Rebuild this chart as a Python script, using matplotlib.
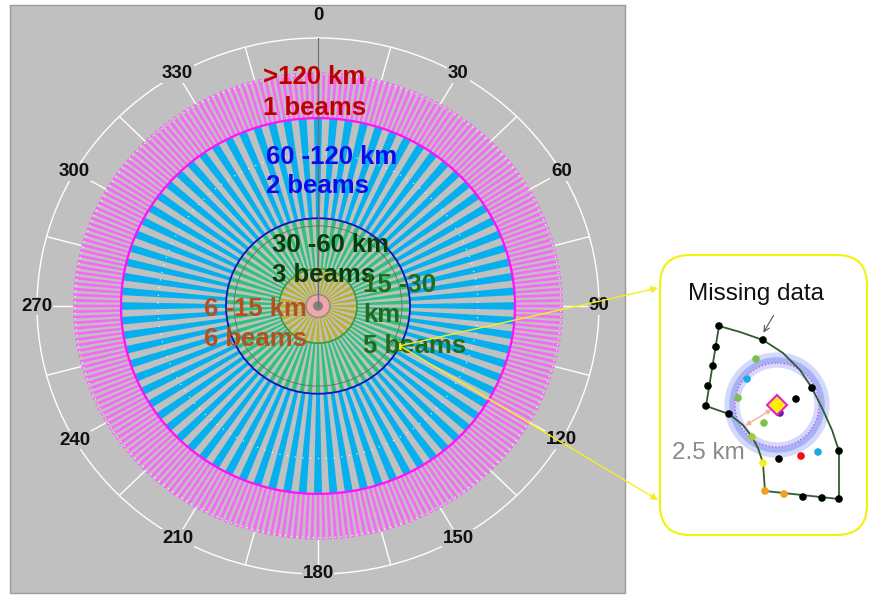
import numpy as np
import matplotlib
matplotlib.use('Agg')
import matplotlib.pyplot as plt
from matplotlib.patches import Rectangle, Circle, FancyBboxPatch, ConnectionPatch, FancyArrowPatch

plt.rcParams['font.family'] = ['Liberation Sans', 'DejaVu Sans']

# range rings: radius on the plot (0..281 = outer circle) and number of beams around
ring_inner = [12, 39, 92, 197]
ring_outer = [39, 92, 197, 245]
ring_nbeams = [36, 70, 80, 260]
ring_colors = ['#b9b12e', '#2fc27a', '#06b0ee', '#f46af4']

tick_deg = [0, 30, 60, 90, 120, 150, 180, 210, 240, 270, 300, 330]

# range labels, one entry per text line
label_lines = ['>120 km', '1 beams', '60 -120 km', '2 beams', '30 -60 km', '3 beams',
               '15 -30', 'km', '5 beams', '6 -15 km', '6 beams']
label_colors = ['#c00000', '#c00000', '#0a0aee', '#0a0aee', '#0b3a0b', '#0b3a0b',
                '#1e6a1e', '#1e6a1e', '#1e6a1e', '#b4501e', '#b4501e']
label_x = [263, 263, 266, 266, 272, 272, 363, 363, 363, 204, 204]
label_y = [84, 115, 164, 193, 252, 282, 292, 322, 353, 316, 346]

# inset (zoomed cell), pixel positions
outer_arc_x = [719, 740, 763, 783, 800, 812, 823, 832, 839, 839]
outer_arc_y = [326, 332, 340, 353, 370, 388, 410, 430, 451, 499]
left_edge_x = [719, 706]
left_edge_y = [326, 406]
inner_arc_x = [706, 729, 743, 752, 758, 763, 765, 839]
inner_arc_y = [406, 414, 425, 437, 448, 463, 491, 499]
dot_x = [719, 716, 713, 708, 706, 729, 763, 812, 839, 803, 822, 839, 796, 779,
         763, 765, 784, 752, 756, 738, 764, 747, 818, 801, 780]
dot_y = [326, 347, 366, 386, 406, 414, 340, 388, 451, 497, 498, 499, 399, 459,
         463, 491, 494, 437, 359, 398, 423, 379, 452, 456, 413]
dot_c = ['k'] * 14 + ['#f4f020', '#f0a020', '#f0a020', '#a8c838', '#7cbf4a', '#7cbf4a',
                      '#7cbf4a', '#1fa8e8', '#1fa8e8', '#ee1111', '#6a1a9a']
target_x, target_y, target_r = 777, 405, 45

W, H = 869, 601
fig = plt.figure(figsize=(W / 100, H / 100), dpi=100, facecolor='white')

bg = fig.add_axes([0, 0, 1, 1], zorder=0)
bg.set_xlim(0, W)
bg.set_ylim(H, 0)
bg.axis('off')
bg.add_patch(Rectangle((10, 5), 615, 588, fc='#c0c0c0', ec='#9a9a9a', lw=1))

cx, cy, rx, ry = 318, 306, 281, 268
ax = fig.add_axes([(cx - rx) / W, (H - cy - ry) / H, 2 * rx / W, 2 * ry / H],
                  projection='polar', zorder=1)
ax.set_aspect('auto')
ax.set_facecolor('none')
ax.set_theta_zero_location('N')
ax.set_theta_direction(-1)
ax.set_ylim(0, 281)
ax.set_xticks([])
ax.set_yticks([])
ax.grid(False)
ax.spines['polar'].set_color('white')
ax.spines['polar'].set_linewidth(1)

full = np.linspace(0, 2 * np.pi, 721)
for inner, outer, n, c in zip(ring_inner, ring_outer, ring_nbeams, ring_colors):
    th = np.arange(n) * 2 * np.pi / n
    ax.bar(th, outer - inner, width=0.52 * 2 * np.pi / n, bottom=inner, color=c, lw=0, zorder=2)

# centre disc
ax.bar(0, 12, width=2 * np.pi, bottom=0, color='#f2a6a6', lw=0, zorder=3)
ax.plot(full, np.full_like(full, 12), color='#8a8a8a', lw=1, zorder=4)
ax.bar(0, 5, width=2 * np.pi, bottom=0, color='#808080', lw=0, zorder=4)

# ring boundaries
ax.plot(full, np.full_like(full, 39), color='#3a9a3a', lw=1.2, zorder=4)
ax.plot(full, np.full_like(full, 84), color='#6a6a6a', lw=0.6, zorder=4)
ax.plot(full, np.full_like(full, 92), color='#1010c0', lw=1.3, zorder=4)
ax.plot(full, np.full_like(full, 197), color='#ff10ff', lw=1.6, zorder=4)
ax.plot(full, np.full_like(full, 160), color='white', lw=0.8, ls=(0, (1, 6)), zorder=3)
ax.plot(full, np.full_like(full, 243), color='white', lw=0.8, ls=(0, (1, 4)), zorder=3)

# angular ticks
for d in range(0, 360, 15):
    ax.plot([np.deg2rad(d)] * 2, [245, 281], color='white', lw=1, zorder=1)
ax.plot([0, 0], [0, 281], color='#707070', lw=1, zorder=5)

for d in tick_deg:
    r = 305 if d == 0 else 281
    ax.text(np.deg2rad(d), r, str(d), ha='center', va='center', fontsize=13.5,
            fontweight='bold', color='#111111', zorder=6,
            bbox=dict(fc='#c0c0c0', ec='none', pad=0.5) if d else None)

# foreground overlay in pixel coordinates
fg = fig.add_axes([0, 0, 1, 1], zorder=3)
fg.set_xlim(0, W)
fg.set_ylim(H, 0)
fg.axis('off')
fg.patch.set_alpha(0)

for txt, c, x, y in zip(label_lines, label_colors, label_x, label_y):
    fg.text(x, y, txt, color=c, fontsize=18.5, fontweight='bold', ha='left', va='baseline')

# selected cell marker and connectors to the inset
sel_th, sel_r = np.deg2rad(117), 92
for ty in (288, 500):
    con = ConnectionPatch(xyA=(sel_th, sel_r), coordsA=ax.transData,
                          xyB=(658, ty), coordsB=fg.transData,
                          arrowstyle='-|>', mutation_scale=10, color='#f4f020', lw=1, zorder=6)
    fig.add_artist(con)
ax.plot([sel_th], [sel_r], 'o', ms=6, mfc='#f4f020', mec='#6a6a00', mew=1, zorder=7)

# inset box
fg.add_patch(FancyBboxPatch((660, 255), 207, 280, boxstyle='round,pad=0,rounding_size=30',
                            fc='white', ec='#f2f20a', lw=1.5))
fg.text(688, 300, 'Missing data', fontsize=17.5, color='#111111', ha='left', va='baseline')
fg.add_patch(FancyArrowPatch((775, 313), (762, 335), arrowstyle='->', mutation_scale=10,
                             color='#555555', lw=0.8))

# search radius glow
fg.add_patch(Circle((target_x, target_y), target_r, fc='none', ec='#b8c0fa', lw=11, alpha=0.6))
fg.add_patch(Circle((target_x, target_y), target_r, fc='none', ec='#8898f2', lw=4, alpha=0.6))
fg.add_patch(Circle((target_x, target_y), target_r - 3, fc='none', ec='#d040e0', lw=0.9, ls=':'))

fg.plot(outer_arc_x, outer_arc_y, color='#2e5e2e', lw=1.3)
fg.plot(left_edge_x, left_edge_y, color='#2e5e2e', lw=1.3)
fg.plot(inner_arc_x, inner_arc_y, color='#2e5e2e', lw=1.3)
fg.scatter(dot_x, dot_y, s=30, c=dot_c, zorder=5, lw=0)

fg.add_patch(FancyArrowPatch((774, 408), (743, 427), arrowstyle='<|-|>', mutation_scale=7,
                             color='#f4b098', lw=1, zorder=6))
fg.plot([target_x], [target_y], 'D', ms=10, mfc='#ffee00', mec='#e020e0', mew=1.5, zorder=7)
fg.text(672, 459, '2.5 km', fontsize=17.5, color='#8a8a8a', ha='left', va='baseline')

fig.savefig('out.png', dpi=100)
